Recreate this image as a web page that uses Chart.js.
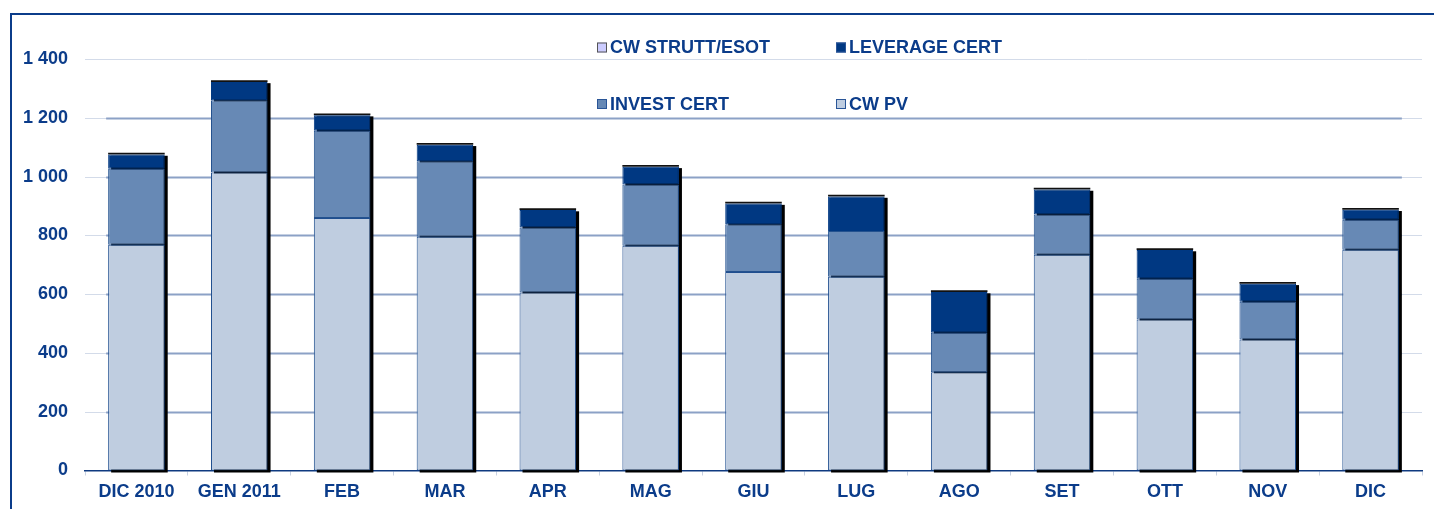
<!DOCTYPE html>
<html>
<head>
<meta charset="utf-8">
<script src="https://cdn.jsdelivr.net/npm/chart.js@4/dist/chart.umd.min.js"></script>
<style>
  html, body { margin: 0; padding: 0; background: #fff; }
  #wrap { width: 1434px; height: 509px; position: relative; }
</style>
</head>
<body>
<div id="wrap"><canvas id="chart" width="1434" height="509"></canvas></div>
<script>
const months = ['DIC 2010', 'GEN 2011', 'FEB', 'MAR', 'APR', 'MAG', 'GIU', 'LUG', 'AGO', 'SET', 'OTT', 'NOV', 'DIC'];
const cwPv = [768, 1014, 859, 795, 606, 765, 675, 659, 334, 734, 514, 446, 751];
const investCert = [259, 246, 297, 257, 221, 208, 163, 156, 135, 137, 138, 128, 102];
const leverageCert = [48, 62, 53, 56, 59, 60, 70, 117, 138, 85, 98, 61, 34];
const cwStrutt = [6, 6, 6, 6, 6, 6, 6, 6, 6, 6, 6, 6, 6];
const yTicks = [0, 200, 400, 600, 800, 1000, 1200, 1400];

const navy = '#0b3c8a';
const fontFam = '"Liberation Sans", Arial, sans-serif';

const fmtTick = (v) => {
    const s = String(v);
    return s.length > 3 ? s.slice(0, s.length - 3) + ' ' + s.slice(-3) : s;
};

// frame lines, gridlines and drop shadow behind the stacks
const decorPlugin = {
    id: 'decor',
    beforeDraw(chart) {
        const { ctx } = chart;
        ctx.save();
        ctx.fillStyle = '#fff';
        ctx.fillRect(0, 0, chart.width, chart.height);
        ctx.strokeStyle = navy;
        ctx.lineWidth = 2;
        ctx.beginPath();
        ctx.moveTo(11, chart.height);
        ctx.lineTo(11, 14);
        ctx.lineTo(chart.width, 14);
        ctx.stroke();
        ctx.restore();
    },
    beforeDatasetsDraw(chart) {
        const { ctx, chartArea } = chart;
        const y = chart.scales.y;
        const first = chart.getDatasetMeta(0).data;
        const top = chart.getDatasetMeta(chart.data.datasets.length - 1).data;
        const darkL = first[0].x - first[0].width / 2 - 2;
        const last = first[first.length - 1];
        const darkR = last.x + last.width / 2 + 3;
        ctx.save();
        yTicks.forEach((v) => {
            if (v === 0) return;
            const py = Math.round(y.getPixelForValue(v)) + 0.5;
            ctx.strokeStyle = '#d3dbe9';
            ctx.lineWidth = 1;
            ctx.beginPath();
            ctx.moveTo(chartArea.left, py);
            ctx.lineTo(chartArea.right, py);
            ctx.stroke();
            if (v !== y.max) {
                ctx.strokeStyle = '#8ca1c6';
                ctx.lineWidth = 2;
                ctx.beginPath();
                ctx.moveTo(darkL, py);
                ctx.lineTo(darkR, py);
                ctx.stroke();
            }
        });
        // shadow
        ctx.fillStyle = '#000';
        first.forEach((bar, i) => {
            const t = top[i];
            const w = bar.width;
            ctx.fillRect(bar.x - w / 2 + 3, t.y + 3, w, bar.base - t.y - 1);
        });
        ctx.restore();
    },
    afterDraw(chart) {
        // 2x2 legend
        const { ctx } = chart;
        const order = [3, 2, 1, 0];
        const spots = [[597, 47.5], [836, 47.5], [597, 104], [836, 104]];
        ctx.save();
        ctx.font = 'bold 18px ' + fontFam;
        ctx.textBaseline = 'middle';
        order.forEach((di, k) => {
            const ds = chart.data.datasets[di];
            const [x, cy] = spots[k];
            ctx.fillStyle = ds.legendColor || ds.backgroundColor;
            ctx.fillRect(x, cy - 5, 10, 10);
            ctx.strokeStyle = di === 3 ? '#555' : '#2a5597';
            ctx.lineWidth = 1;
            ctx.strokeRect(x + 0.5, cy - 4.5, 9, 9);
            ctx.fillStyle = navy;
            ctx.fillText(ds.label, x + 13, cy + 1);
        });
        ctx.restore();
    }
};

const barOpts = {
    barPercentage: 0.55,
    categoryPercentage: 1,
    borderWidth: 1,
    borderSkipped: false
};

new Chart(document.getElementById('chart'), {
    type: 'bar',
    data: {
        labels: months,
        datasets: [
            { label: 'CW PV', data: cwPv, backgroundColor: '#bfcde0', borderColor: '#1f4e8f', ...barOpts },
            { label: 'INVEST CERT', data: investCert, backgroundColor: '#6789b5', borderColor: '#24528f', ...barOpts },
            { label: 'LEVERAGE CERT', data: leverageCert, backgroundColor: '#003882', borderColor: '#003882', ...barOpts },
            { label: 'CW STRUTT/ESOT', data: cwStrutt, backgroundColor: '#111', legendColor: '#ccccff', borderColor: '#000', ...barOpts, borderWidth: 0 }
        ]
    },
    options: {
        responsive: false,
        animation: false,
        layout: { padding: { top: 59, right: 12, left: 0, bottom: 0 } },
        plugins: {
            legend: { display: false },
            tooltip: { enabled: false }
        },
        scales: {
            x: {
                stacked: true,
                offset: true,
                grid: {
                    display: true,
                    offset: true,
                    drawOnChartArea: false,
                    drawTicks: true,
                    tickLength: 5,
                    tickColor: '#c9d2e3',
                    tickWidth: 1
                },
                border: { display: true, color: '#0f3a80', width: 1.5 },
                ticks: {
                    color: navy,
                    font: { family: fontFam, size: 18, weight: 'bold' },
                    padding: 6,
                    maxRotation: 0,
                    autoSkip: false
                },
                afterFit(scale) { scale.height = 38.5; }
            },
            y: {
                stacked: true,
                min: 0,
                max: 1400,
                afterBuildTicks(scale) { scale.ticks = yTicks.map(v => ({ value: v })); },
                grid: { display: false, drawTicks: false },
                border: { display: false },
                ticks: {
                    color: navy,
                    font: { family: fontFam, size: 18, weight: 'bold' },
                    padding: 17,
                    callback: (v) => fmtTick(v)
                },
                afterFit(scale) { scale.width = 85; }
            }
        }
    },
    plugins: [decorPlugin]
});
</script>
</body>
</html>
